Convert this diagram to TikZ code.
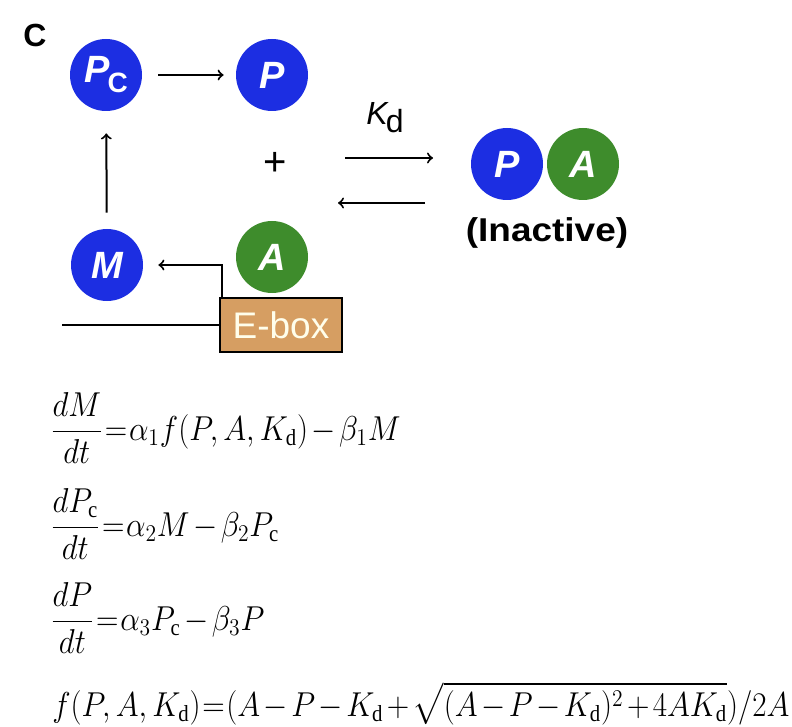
\documentclass[tikz,border=0pt]{standalone}
\usepackage{fontspec}
\setmainfont{Liberation Sans}
\setmathrm{Liberation Serif}
\usepackage{amsmath}
\usepackage{graphicx}
\definecolor{molblue}{RGB}{28,46,226}
\definecolor{molgreen}{RGB}{62,140,44}
\definecolor{boxtan}{RGB}{214,158,98}
\newcommand{\eqtext}[1]{\scalebox{0.9}[1]{$\thickmuskip=1mu\medmuskip=2mu\displaystyle #1$}}
\tikzset{
  mol/.style={circle, minimum size=36pt, inner sep=0pt, text=white,
    font=\fontsize{19}{19}\selectfont\bfseries\itshape},
  prot/.style={mol, fill=molblue},
  act/.style={mol, fill=molgreen},
  arr/.style={->, line width=1pt},
  eqn/.style={anchor=base west, inner sep=0pt, font=\fontsize{16.5}{20}\selectfont},
}
\begin{document}
\begin{tikzpicture}[x=0.5pt,y=-0.5pt]
    \useasboundingbox (0,0) rectangle (792,727);

    %panel label
    \node[font=\fontsize{16}{16}\selectfont\bfseries] (lbl) at (35,35) {C};

    %feedback loop
    \node[prot] (pc) at (106,75) {P\kern-1pt\raisebox{-5pt}{\fontsize{14}{14}\selectfont\upshape C}};
    \node[prot] (p) at (272,75) {P};
    \node[prot] (m) at (107,265) {M};
    \node[act] (a) at (272,257) {A};
    \node[font=\fontsize{20}{20}\selectfont] (plus) at (275,164) {+};
    \draw[arr, shorten <=8pt, shorten >=6pt] (pc) -- (p);
    \draw[arr, shorten <=8pt, shorten >=11pt] (m) -- (pc);

    %complex
    \node[prot] (pp) at (507,164) {P};
    \node[act] (pa) at (583,164) {A};
    \node[font=\fontsize{16.5}{16.5}\selectfont\bfseries] (inact) at (547,233) {\scalebox{1.12}[1]{(Inactive)}};

    %binding
    \coordinate (fw1) at (345,158);
    \coordinate (fw2) at (433,158);
    \coordinate (bw1) at (425,203);
    \coordinate (bw2) at (338,203);
    \draw[arr] (fw1) -- (fw2);
    \draw[arr] (bw1) -- (bw2);
    \node[font=\fontsize{16}{16}\selectfont] (kd) at (385,118) {\itshape K\upshape\kern-1pt\raisebox{-4pt}{d}};

    %E-box
    \node[draw, line width=1pt, fill=boxtan, text=yellow!8, minimum width=61pt,
      minimum height=27pt, font=\fontsize{18.5}{18.5}\selectfont] (ebox) at (281,325) {E-box};
    \coordinate (gene) at (62,325);
    \draw[line width=1pt] (gene) -- (ebox);
    \draw[arr, shorten >=7.5pt] ([xshift=1.5pt]ebox.north west) |- (m);

    %equations
    \node[eqn] (eq1) at (50,440) {\eqtext{\dfrac{dM}{dt}=\alpha_1 f(P,A,K_\mathrm{d})-\beta_1 M}};
    \node[eqn] (eq2) at (50,536) {\eqtext{\dfrac{dP_\mathrm{c}}{dt}=\alpha_2 M-\beta_2 P_\mathrm{c}}};
    \node[eqn] (eq3) at (50,630) {\eqtext{\dfrac{dP}{dt}=\alpha_3 P_\mathrm{c}-\beta_3 P}};
    \node[eqn] (eq4) at (52,716) {\eqtext{f(P,A,K_\mathrm{d})=(A-P-K_\mathrm{d}+\sqrt{(A-P-K_\mathrm{d})^2+4AK_\mathrm{d}})/2A}};
\end{tikzpicture}
\end{document}
